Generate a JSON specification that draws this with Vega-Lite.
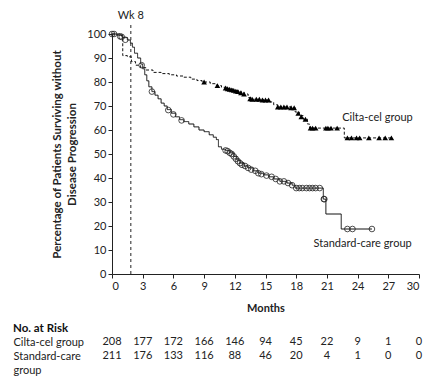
{
  "$schema": "https://vega.github.io/schema/vega-lite/v6.json",
  "padding": {"left": 13, "top": 9, "right": 5, "bottom": 5},
  "spacing": 9,
  "config": {
    "view": {"stroke": null},
    "font": "Lato",
    "axis": {"labelColor": "#222", "titleColor": "#222", "domainColor": "#222", "tickColor": "#222", "labelFontSize": 11, "titleFontSize": 11, "titleFontWeight": "bold", "grid": false}
  },
  "datasets": {
    "curve": [
      {"group": "Cilta-cel group", "month": 0, "pct": 100},
      {"group": "Cilta-cel group", "month": 0.9, "pct": 99.2},
      {"group": "Cilta-cel group", "month": 1.05, "pct": 91},
      {"group": "Cilta-cel group", "month": 1.5, "pct": 90.5},
      {"group": "Cilta-cel group", "month": 1.9, "pct": 88.5},
      {"group": "Cilta-cel group", "month": 2.3, "pct": 87},
      {"group": "Cilta-cel group", "month": 2.8, "pct": 86},
      {"group": "Cilta-cel group", "month": 3.3, "pct": 85},
      {"group": "Cilta-cel group", "month": 4.0, "pct": 84},
      {"group": "Cilta-cel group", "month": 4.8, "pct": 83.5},
      {"group": "Cilta-cel group", "month": 5.6, "pct": 83},
      {"group": "Cilta-cel group", "month": 6.3, "pct": 82.5},
      {"group": "Cilta-cel group", "month": 7.0, "pct": 82},
      {"group": "Cilta-cel group", "month": 7.7, "pct": 81.2},
      {"group": "Cilta-cel group", "month": 8.3, "pct": 80.6},
      {"group": "Cilta-cel group", "month": 8.8, "pct": 80},
      {"group": "Cilta-cel group", "month": 9.6, "pct": 79.3},
      {"group": "Cilta-cel group", "month": 10.2, "pct": 78.5},
      {"group": "Cilta-cel group", "month": 10.7, "pct": 77.8},
      {"group": "Cilta-cel group", "month": 11.2, "pct": 77.2},
      {"group": "Cilta-cel group", "month": 11.8, "pct": 76.5},
      {"group": "Cilta-cel group", "month": 12.4, "pct": 75.8},
      {"group": "Cilta-cel group", "month": 12.9, "pct": 75},
      {"group": "Cilta-cel group", "month": 13.3, "pct": 73.5},
      {"group": "Cilta-cel group", "month": 13.6, "pct": 72.8},
      {"group": "Cilta-cel group", "month": 14.8, "pct": 72.5},
      {"group": "Cilta-cel group", "month": 15.4, "pct": 71.7},
      {"group": "Cilta-cel group", "month": 15.8, "pct": 70.5},
      {"group": "Cilta-cel group", "month": 16.2, "pct": 69.6},
      {"group": "Cilta-cel group", "month": 17.5, "pct": 69.3},
      {"group": "Cilta-cel group", "month": 17.9, "pct": 67.5},
      {"group": "Cilta-cel group", "month": 18.3, "pct": 66},
      {"group": "Cilta-cel group", "month": 18.7, "pct": 64.5},
      {"group": "Cilta-cel group", "month": 19.1, "pct": 62.5},
      {"group": "Cilta-cel group", "month": 19.3, "pct": 60.8},
      {"group": "Cilta-cel group", "month": 22.7, "pct": 56.7},
      {"group": "Cilta-cel group", "month": 27.4, "pct": 56.7},
      {"group": "Standard-care group", "month": 0, "pct": 100},
      {"group": "Standard-care group", "month": 0.5, "pct": 99.5},
      {"group": "Standard-care group", "month": 1.0, "pct": 98.5},
      {"group": "Standard-care group", "month": 1.5, "pct": 97.5},
      {"group": "Standard-care group", "month": 1.8, "pct": 96.2},
      {"group": "Standard-care group", "month": 2.0, "pct": 94.5},
      {"group": "Standard-care group", "month": 2.2, "pct": 92},
      {"group": "Standard-care group", "month": 2.5, "pct": 90},
      {"group": "Standard-care group", "month": 2.8, "pct": 87.5},
      {"group": "Standard-care group", "month": 3.0, "pct": 85.5},
      {"group": "Standard-care group", "month": 3.2, "pct": 83},
      {"group": "Standard-care group", "month": 3.4, "pct": 80.5},
      {"group": "Standard-care group", "month": 3.6, "pct": 78},
      {"group": "Standard-care group", "month": 3.9, "pct": 76},
      {"group": "Standard-care group", "month": 4.2, "pct": 74.5},
      {"group": "Standard-care group", "month": 4.5, "pct": 73},
      {"group": "Standard-care group", "month": 4.8, "pct": 71.2},
      {"group": "Standard-care group", "month": 5.1, "pct": 70},
      {"group": "Standard-care group", "month": 5.4, "pct": 68.5},
      {"group": "Standard-care group", "month": 5.8, "pct": 67},
      {"group": "Standard-care group", "month": 6.2, "pct": 65.5},
      {"group": "Standard-care group", "month": 6.6, "pct": 64.3},
      {"group": "Standard-care group", "month": 7.0, "pct": 63.5},
      {"group": "Standard-care group", "month": 7.5, "pct": 62.5},
      {"group": "Standard-care group", "month": 8.0, "pct": 61.3},
      {"group": "Standard-care group", "month": 8.5, "pct": 60},
      {"group": "Standard-care group", "month": 9.0, "pct": 59.3},
      {"group": "Standard-care group", "month": 9.5, "pct": 58},
      {"group": "Standard-care group", "month": 9.9, "pct": 57},
      {"group": "Standard-care group", "month": 10.2, "pct": 56},
      {"group": "Standard-care group", "month": 10.4, "pct": 53},
      {"group": "Standard-care group", "month": 10.7, "pct": 52},
      {"group": "Standard-care group", "month": 11.1, "pct": 51.5},
      {"group": "Standard-care group", "month": 11.5, "pct": 50.5},
      {"group": "Standard-care group", "month": 11.9, "pct": 49},
      {"group": "Standard-care group", "month": 12.2, "pct": 47.5},
      {"group": "Standard-care group", "month": 12.5, "pct": 46.2},
      {"group": "Standard-care group", "month": 12.9, "pct": 45},
      {"group": "Standard-care group", "month": 13.3, "pct": 44.2},
      {"group": "Standard-care group", "month": 13.8, "pct": 43},
      {"group": "Standard-care group", "month": 14.3, "pct": 42},
      {"group": "Standard-care group", "month": 14.8, "pct": 41.3},
      {"group": "Standard-care group", "month": 15.3, "pct": 40.5},
      {"group": "Standard-care group", "month": 15.8, "pct": 39.6},
      {"group": "Standard-care group", "month": 16.4, "pct": 38.6},
      {"group": "Standard-care group", "month": 17.1, "pct": 37.9},
      {"group": "Standard-care group", "month": 17.6, "pct": 37},
      {"group": "Standard-care group", "month": 17.9, "pct": 35.8},
      {"group": "Standard-care group", "month": 20.65, "pct": 31.2},
      {"group": "Standard-care group", "month": 20.9, "pct": 25},
      {"group": "Standard-care group", "month": 22.4, "pct": 18.75},
      {"group": "Standard-care group", "month": 25.4, "pct": 18.75}
    ],
    "censor": [
      {"group": "Cilta-cel group", "month": 9.0, "pct": 80},
      {"group": "Cilta-cel group", "month": 10.3, "pct": 78.5},
      {"group": "Cilta-cel group", "month": 11.1, "pct": 77.5},
      {"group": "Cilta-cel group", "month": 11.3, "pct": 77.2},
      {"group": "Cilta-cel group", "month": 11.5, "pct": 77},
      {"group": "Cilta-cel group", "month": 11.7, "pct": 76.7},
      {"group": "Cilta-cel group", "month": 11.9, "pct": 76.5},
      {"group": "Cilta-cel group", "month": 12.1, "pct": 76.2},
      {"group": "Cilta-cel group", "month": 12.3, "pct": 76},
      {"group": "Cilta-cel group", "month": 12.6, "pct": 75.5},
      {"group": "Cilta-cel group", "month": 12.9, "pct": 75},
      {"group": "Cilta-cel group", "month": 13.5, "pct": 73},
      {"group": "Cilta-cel group", "month": 13.7, "pct": 72.8},
      {"group": "Cilta-cel group", "month": 14.1, "pct": 72.8},
      {"group": "Cilta-cel group", "month": 14.4, "pct": 72.8},
      {"group": "Cilta-cel group", "month": 14.7, "pct": 72.5},
      {"group": "Cilta-cel group", "month": 15.0, "pct": 72.5},
      {"group": "Cilta-cel group", "month": 15.3, "pct": 72.5},
      {"group": "Cilta-cel group", "month": 16.2, "pct": 69.6},
      {"group": "Cilta-cel group", "month": 16.5, "pct": 69.6},
      {"group": "Cilta-cel group", "month": 16.8, "pct": 69.6},
      {"group": "Cilta-cel group", "month": 17.1, "pct": 69.6},
      {"group": "Cilta-cel group", "month": 17.5, "pct": 69.3},
      {"group": "Cilta-cel group", "month": 17.8, "pct": 69.3},
      {"group": "Cilta-cel group", "month": 18.2, "pct": 67},
      {"group": "Cilta-cel group", "month": 18.5, "pct": 65.5},
      {"group": "Cilta-cel group", "month": 18.9, "pct": 64.5},
      {"group": "Cilta-cel group", "month": 19.4, "pct": 60.8},
      {"group": "Cilta-cel group", "month": 19.6, "pct": 60.8},
      {"group": "Cilta-cel group", "month": 19.9, "pct": 60.8},
      {"group": "Cilta-cel group", "month": 20.9, "pct": 60.8},
      {"group": "Cilta-cel group", "month": 21.1, "pct": 60.8},
      {"group": "Cilta-cel group", "month": 21.4, "pct": 60.8},
      {"group": "Cilta-cel group", "month": 22.0, "pct": 60.8},
      {"group": "Cilta-cel group", "month": 23.0, "pct": 56.7},
      {"group": "Cilta-cel group", "month": 23.4, "pct": 56.7},
      {"group": "Cilta-cel group", "month": 23.9, "pct": 56.7},
      {"group": "Cilta-cel group", "month": 24.2, "pct": 56.7},
      {"group": "Cilta-cel group", "month": 25.1, "pct": 56.7},
      {"group": "Cilta-cel group", "month": 26.1, "pct": 56.7},
      {"group": "Cilta-cel group", "month": 26.7, "pct": 56.7},
      {"group": "Cilta-cel group", "month": 27.3, "pct": 56.7},
      {"group": "Standard-care group", "month": 0.0, "pct": 100},
      {"group": "Standard-care group", "month": 0.2, "pct": 100},
      {"group": "Standard-care group", "month": 0.8, "pct": 99},
      {"group": "Standard-care group", "month": 0.95, "pct": 98.8},
      {"group": "Standard-care group", "month": 1.3, "pct": 97.6},
      {"group": "Standard-care group", "month": 2.9, "pct": 87},
      {"group": "Standard-care group", "month": 3.9, "pct": 76},
      {"group": "Standard-care group", "month": 5.5, "pct": 68.3},
      {"group": "Standard-care group", "month": 6.0, "pct": 66.5},
      {"group": "Standard-care group", "month": 6.8, "pct": 64},
      {"group": "Standard-care group", "month": 11.1, "pct": 51.5},
      {"group": "Standard-care group", "month": 11.3, "pct": 51.2},
      {"group": "Standard-care group", "month": 11.5, "pct": 50.5},
      {"group": "Standard-care group", "month": 11.7, "pct": 50},
      {"group": "Standard-care group", "month": 11.9, "pct": 49},
      {"group": "Standard-care group", "month": 12.1, "pct": 48},
      {"group": "Standard-care group", "month": 12.3, "pct": 47},
      {"group": "Standard-care group", "month": 12.5, "pct": 46.2},
      {"group": "Standard-care group", "month": 12.7, "pct": 45.5},
      {"group": "Standard-care group", "month": 13.0, "pct": 45},
      {"group": "Standard-care group", "month": 13.3, "pct": 44.2},
      {"group": "Standard-care group", "month": 13.6, "pct": 43.5},
      {"group": "Standard-care group", "month": 14.0, "pct": 43},
      {"group": "Standard-care group", "month": 14.3, "pct": 42},
      {"group": "Standard-care group", "month": 14.6, "pct": 41.6},
      {"group": "Standard-care group", "month": 15.1, "pct": 41},
      {"group": "Standard-care group", "month": 15.6, "pct": 40.5},
      {"group": "Standard-care group", "month": 16.0, "pct": 39.6},
      {"group": "Standard-care group", "month": 16.4, "pct": 38.6},
      {"group": "Standard-care group", "month": 16.8, "pct": 38.6},
      {"group": "Standard-care group", "month": 17.2, "pct": 37.9},
      {"group": "Standard-care group", "month": 17.6, "pct": 37},
      {"group": "Standard-care group", "month": 18.0, "pct": 35.8},
      {"group": "Standard-care group", "month": 18.3, "pct": 35.8},
      {"group": "Standard-care group", "month": 18.6, "pct": 35.8},
      {"group": "Standard-care group", "month": 19.0, "pct": 35.8},
      {"group": "Standard-care group", "month": 19.3, "pct": 35.8},
      {"group": "Standard-care group", "month": 19.6, "pct": 35.8},
      {"group": "Standard-care group", "month": 19.9, "pct": 35.8},
      {"group": "Standard-care group", "month": 20.3, "pct": 35.8},
      {"group": "Standard-care group", "month": 20.7, "pct": 31.2},
      {"group": "Standard-care group", "month": 20.75, "pct": 31.2},
      {"group": "Standard-care group", "month": 23.0, "pct": 18.75},
      {"group": "Standard-care group", "month": 23.5, "pct": 18.75},
      {"group": "Standard-care group", "month": 25.4, "pct": 18.75}
    ],
    "labels": [
      {"label": "Cilta-cel group", "month": 22.5, "pct": 65},
      {"label": "Standard-care group", "month": 19.7, "pct": 12.5}
    ],
    "wk8": [
      {"label": "Wk 8", "month": 1.84, "y0": 0, "y1": 105, "ytext": 107.6}
    ],
    "risk": [
      {"group": "Cilta-cel group", "month": 0, "n": 208},
      {"group": "Cilta-cel group", "month": 3, "n": 177},
      {"group": "Cilta-cel group", "month": 6, "n": 172},
      {"group": "Cilta-cel group", "month": 9, "n": 166},
      {"group": "Cilta-cel group", "month": 12, "n": 146},
      {"group": "Cilta-cel group", "month": 15, "n": 94},
      {"group": "Cilta-cel group", "month": 18, "n": 45},
      {"group": "Cilta-cel group", "month": 21, "n": 22},
      {"group": "Cilta-cel group", "month": 24, "n": 9},
      {"group": "Cilta-cel group", "month": 27, "n": 1},
      {"group": "Cilta-cel group", "month": 30, "n": 0},
      {"group": "Standard-care group", "month": 0, "n": 211},
      {"group": "Standard-care group", "month": 3, "n": 176},
      {"group": "Standard-care group", "month": 6, "n": 133},
      {"group": "Standard-care group", "month": 9, "n": 116},
      {"group": "Standard-care group", "month": 12, "n": 88},
      {"group": "Standard-care group", "month": 15, "n": 46},
      {"group": "Standard-care group", "month": 18, "n": 20},
      {"group": "Standard-care group", "month": 21, "n": 4},
      {"group": "Standard-care group", "month": 24, "n": 1},
      {"group": "Standard-care group", "month": 27, "n": 0},
      {"group": "Standard-care group", "month": 30, "n": 0}
    ]
  },
  "vconcat": [
    {
      "width": 307,
      "height": 240,
      "encoding": {
        "x": {"field": "month", "type": "quantitative", "scale": {"domain": [0, 30], "nice": false},
              "axis": {"values": [0, 3, 6, 9, 12, 15, 18, 21, 24, 27, 30], "title": "Months", "tickSize": 4, "labelPadding": 2, "titlePadding": 11}},
        "y": {"field": "pct", "type": "quantitative", "scale": {"domain": [0, 100], "nice": false},
              "axis": {"values": [0, 10, 20, 30, 40, 50, 60, 70, 80, 90, 100], "title": ["Percentage of Patients Surviving without", "Disease Progression"], "titleFontSize": 11.5, "titleLineHeight": 15, "tickSize": 4, "labelPadding": 2, "titlePadding": 9}}
      },
      "layer": [
        {
          "data": {"name": "wk8"},
          "mark": {"type": "rule", "strokeDash": [3, 3], "strokeWidth": 1, "color": "#222"},
          "encoding": {"y": {"field": "y0", "type": "quantitative"}, "y2": {"field": "y1"}}
        },
        {
          "data": {"name": "wk8"},
          "mark": {"type": "text", "align": "center", "baseline": "middle", "fontSize": 11, "color": "#222"},
          "encoding": {"y": {"field": "ytext", "type": "quantitative"}, "text": {"field": "label"}}
        },
        {
          "data": {"name": "curve"},
          "mark": {"type": "line", "interpolate": "step-after", "strokeWidth": 1, "color": "#111"},
          "encoding": {
            "strokeDash": {"field": "group", "type": "nominal", "scale": {"domain": ["Cilta-cel group", "Standard-care group"], "range": [[3, 2], [1, 0]]}, "legend": null}
          }
        },
        {
          "data": {"name": "censor"},
          "transform": [{"filter": "datum.group == 'Cilta-cel group'"}],
          "mark": {"type": "point", "shape": "triangle-up", "filled": true, "size": 32, "color": "#000", "opacity": 1}
        },
        {
          "data": {"name": "censor"},
          "transform": [{"filter": "datum.group == 'Standard-care group'"}],
          "mark": {"type": "point", "shape": "circle", "filled": false, "size": 32, "strokeWidth": 0.8, "color": "#222", "opacity": 1}
        },
        {
          "data": {"name": "labels"},
          "mark": {"type": "text", "align": "left", "baseline": "middle", "fontSize": 11, "color": "#222"},
          "encoding": {"text": {"field": "label"}}
        }
      ]
    },
    {
      "width": 307,
      "height": 28,
      "title": {"text": "No. at Risk", "anchor": "start", "fontSize": 11.5, "fontWeight": "bold", "color": "#111", "offset": 0},
      "data": {"name": "risk"},
      "mark": {"type": "text", "align": "center", "baseline": "alphabetic", "dy": 4, "fontSize": 11, "color": "#222"},
      "encoding": {
        "x": {"field": "month", "type": "quantitative", "scale": {"domain": [0, 30], "nice": false}, "axis": null},
        "y": {"field": "group", "type": "nominal", "scale": {"type": "point", "padding": 0.5, "domain": ["Cilta-cel group", "Standard-care group"]},
              "axis": {"title": null, "domain": false, "ticks": false, "tickSize": 0, "labelAlign": "left", "labelBaseline": "alphabetic", "labelOffset": 4, "labelPadding": 99, "labelLineHeight": 14,
                       "labelExpr": "datum.value == 'Standard-care group' ? ['Standard-care', '\u00a0\u00a0\u00a0\u00a0group'] : datum.value"}},
        "text": {"field": "n", "type": "quantitative"}
      }
    }
  ]
}
